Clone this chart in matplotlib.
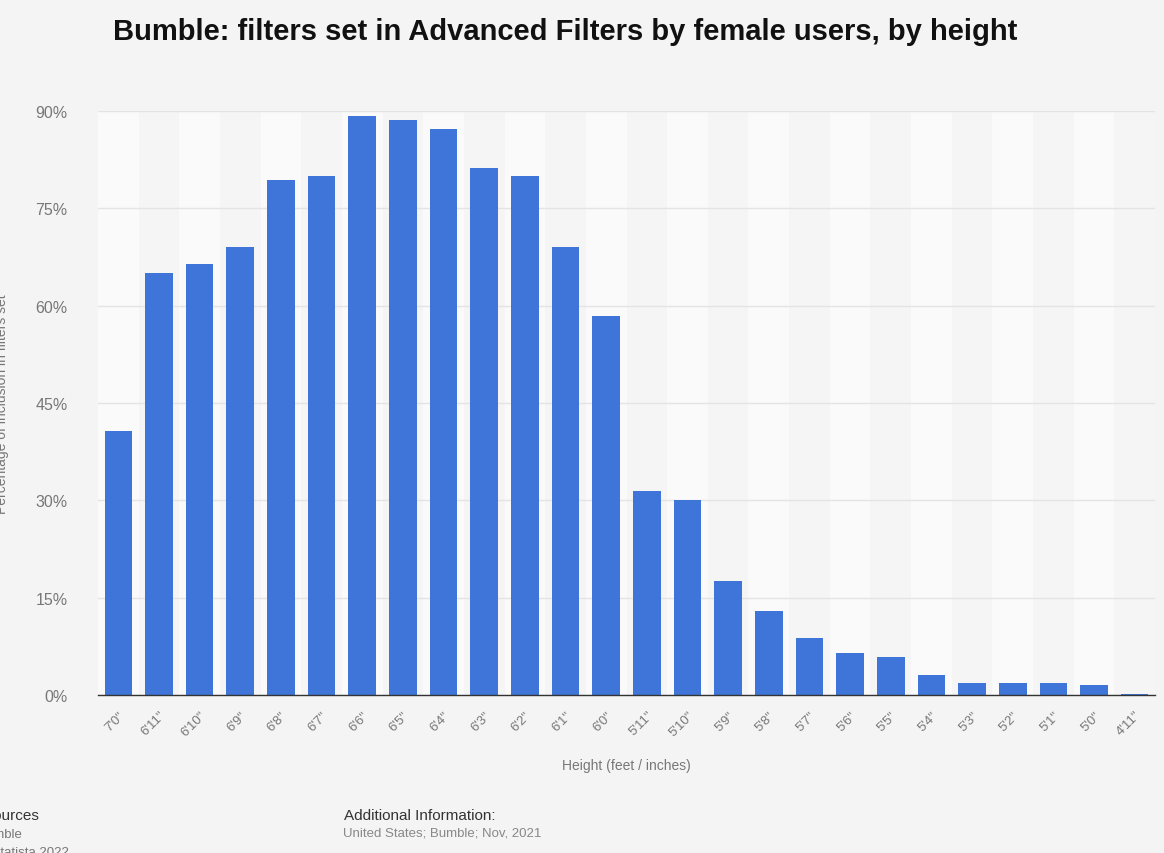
import matplotlib
matplotlib.use("Agg")
import matplotlib.pyplot as plt
import numpy as np

categories = ["7'0\"", "6'11\"", "6'10\"", "6'9\"", "6'8\"", "6'7\"", "6'6\"", "6'5\"",
              "6'4\"", "6'3\"", "6'2\"", "6'1\"", "6'0\"", "5'11\"", "5'10\"", "5'9\"",
              "5'8\"", "5'7\"", "5'6\"", "5'5\"", "5'4\"", "5'3\"", "5'2\"", "5'1\"",
              "5'0\"", "4'11\""]
values = [40.7, 65.0, 66.4, 69.0, 79.4, 80.0, 89.2, 88.6, 87.2, 81.2, 80.0, 69.0, 58.4,
          31.4, 30.0, 17.6, 12.9, 8.8, 6.5, 5.9, 3.1, 1.8, 1.8, 1.8, 1.5, 0.2]
yticks = [0, 15, 30, 45, 60, 75, 90]

plt.rcParams['font.family'] = ['Liberation Sans', 'DejaVu Sans']
fig = plt.figure(figsize=(11.64, 8.54), dpi=100)
fig.patch.set_facecolor('#f4f4f4')
ax = fig.add_axes([98/1164, 1-696/854, (1155-98)/1164, (696-112)/854])
ax.set_facecolor('#f4f4f4')

x = np.arange(len(categories))
for i in x:
    ax.axvspan(i-0.5, i+0.5, color='#fafafa' if i % 2 == 0 else '#f5f5f5', zorder=0, lw=0)
for t in yticks:
    ax.axhline(t, color='#e4e4e4', lw=1, zorder=1)

ax.bar(x, values, width=0.68, color='#3f74d8', zorder=3)
ax.set_xlim(-0.5, len(categories)-0.5)
ax.set_ylim(0, 90)
ax.set_yticks(yticks)
ax.set_yticklabels([f"{t}%" for t in yticks], color='#777777', fontsize=11.5)
ax.set_xticks(x)
ax.set_xticklabels(categories, rotation=45, ha='right', rotation_mode='anchor',
                   color='#777777', fontsize=9.5)
ax.tick_params(axis='both', length=0)
ax.tick_params(axis='y', pad=22)
ax.tick_params(axis='x', pad=10)
for s in ['top', 'right', 'left']:
    ax.spines[s].set_visible(False)
ax.spines['bottom'].set_color('#333333')
ax.spines['bottom'].set_linewidth(1)
ax.spines['bottom'].set_zorder(4)

ax.set_xlabel("Height (feet / inches)", color='#777777', fontsize=10, labelpad=14)
fig.text(2/1164, 1-404/854, "Percentage of inclusion in filters set", rotation=90,
         color='#777777', fontsize=10, ha='center', va='center')

fig.text(113/1164, 1-32/854, "Bumble: filters set in Advanced Filters by female users, by height",
         fontsize=21, fontweight='bold', color='#111111', ha='left', va='center')

fig.text(-17/1164, 1-816/854, "Sources", fontsize=11, color='#333333', ha='left', va='center')
fig.text(-22/1164, 1-835/854, "Bumble", fontsize=9.5, color='#777777', ha='left', va='center')
fig.text(-22/1164, 1-853/854, "© Statista 2022", fontsize=9.5, color='#777777', ha='left', va='center')
fig.text(344/1164, 1-816/854, "Additional Information:", fontsize=11, color='#333333', ha='left', va='center')
fig.text(343/1164, 1-834/854, "United States; Bumble; Nov, 2021", fontsize=9.5, color='#888888', ha='left', va='center')

fig.savefig("out.png", dpi=100, facecolor=fig.get_facecolor())
